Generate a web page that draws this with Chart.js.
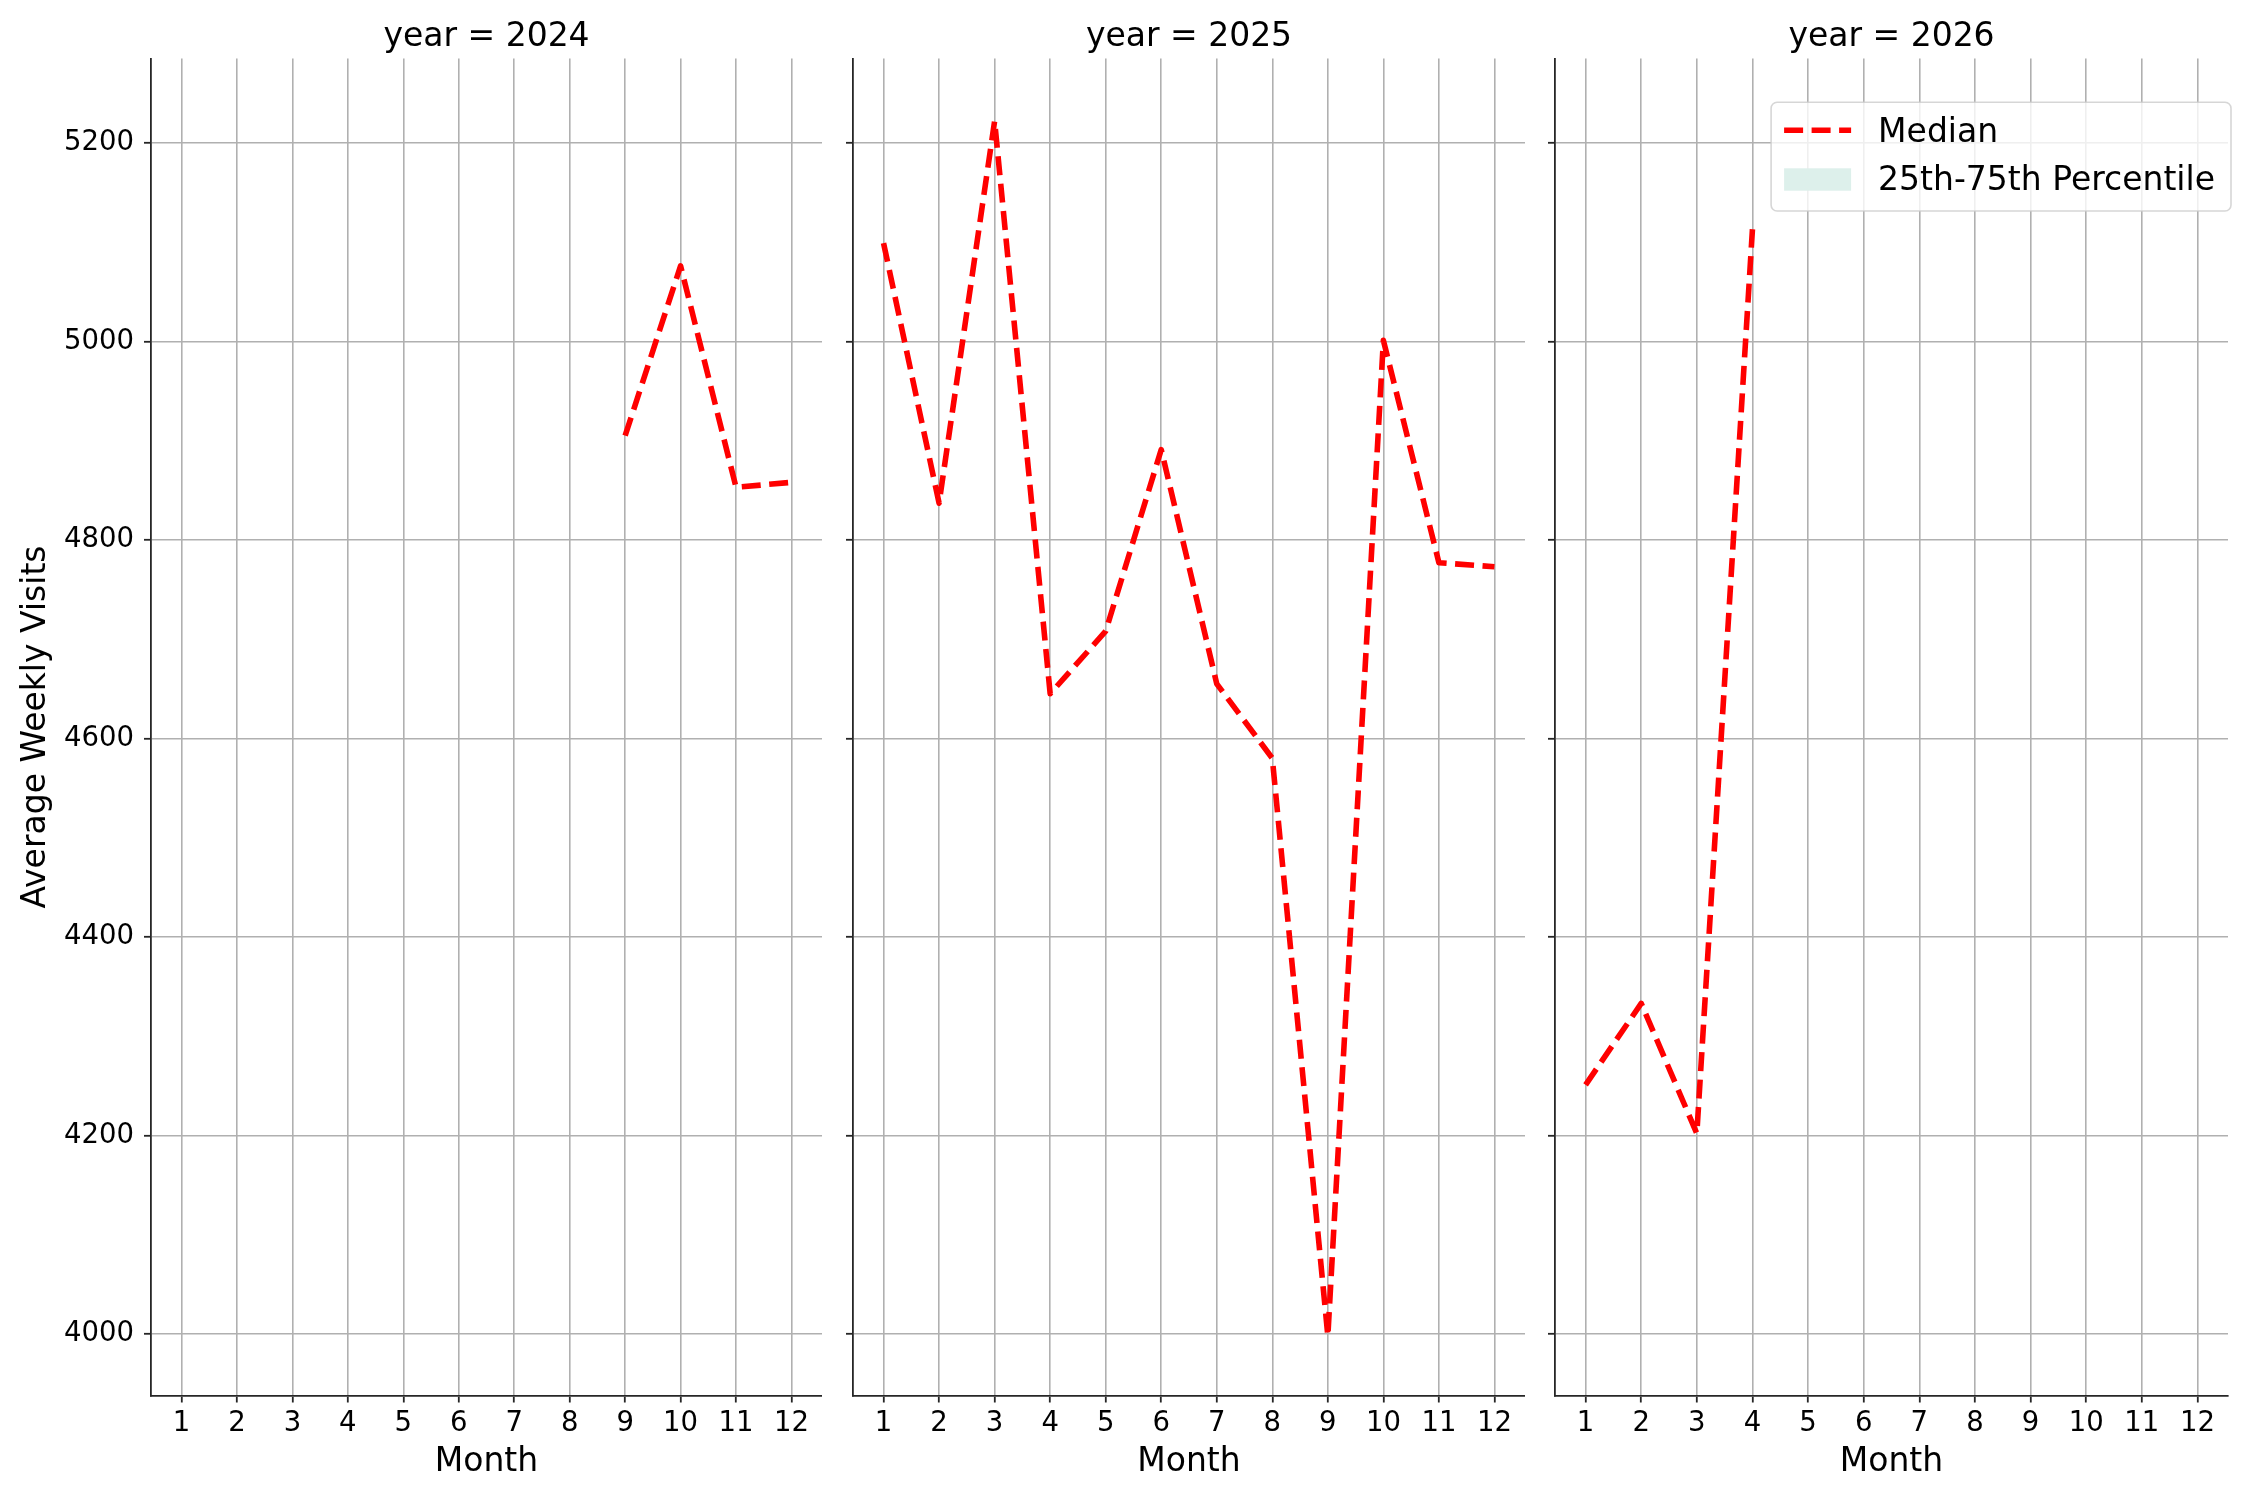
<!DOCTYPE html>
<html>
<head>
<meta charset="utf-8">
<script src="https://cdn.jsdelivr.net/npm/chart.js@4.4.1/dist/chart.umd.min.js"></script>
<style>
  html, body { margin: 0; padding: 0; background: #ffffff; width: 2250px; height: 1500px; overflow: hidden; }
  canvas { position: absolute; top: 0; }
</style>
</head>
<body>
<canvas id="c0"></canvas>
<canvas id="c1"></canvas>
<canvas id="c2"></canvas>
<script>
// ---------------- data ----------------
const months = [1, 2, 3, 4, 5, 6, 7, 8, 9, 10, 11, 12];
const years = ['2024', '2025', '2026'];
const median2024 = [null, null, null, null, null, null, null, null, 4905, 5076, 4853, 4858];
const median2025 = [5099, 4837, 5222, 4645, 4708, 4891, 4655, 4580, 3998, 5001, 4777, 4773];
const median2026 = [4251, 4333, 4202, 5113, null, null, null, null, null, null, null, null];
const yTicks = [4000, 4200, 4400, 4600, 4800, 5000, 5200];
const seriesLabels = ['Median', '25th-75th Percentile'];
const yTitle = 'Average Weekly Visits';
const xTitle = 'Month';

// ---------------- styling ----------------
const FONT = "'DejaVu Sans', 'Liberation Sans', sans-serif";
const INK = '#262626';
const GRID = '#b0b0b0';
const Y_MIN = 3938, Y_MAX = 5285;
const X_MIN = 0.45, X_MAX = 12.55;

const panels = [
  { canvas: 'c0', left: 0,    width: 822, yAxisWidth: 151, padRight: 0,  showYLabels: true,  values: median2024, legend: false },
  { canvas: 'c1', left: 841,  width: 684, yAxisWidth: 12,  padRight: 0,  showYLabels: false, values: median2025, legend: false },
  { canvas: 'c2', left: 1543, width: 707, yAxisWidth: 12,  padRight: 22, showYLabels: false, values: median2026, legend: true }
];

const legendPlugin = {
  id: 'boxLegend',
  afterDatasetsDraw(chart, args, opts) {
    if (!opts || !opts.show) return;
    const ctx = chart.ctx;
    const a = chart.chartArea;
    const ds = chart.data.datasets;
    ctx.save();
    ctx.font = '33px ' + FONT;
    let textW = 0;
    ds.forEach(d => { textW = Math.max(textW, ctx.measureText(d.label).width); });
    const padL = 13, handleW = 67, gap = 27, padR = 16;
    const w = padL + handleW + gap + textW + padR;
    const h = 108.7;
    const right = a.right + 3;
    const left = right - w;
    const top = a.top + 43.8;
    // frame
    ctx.beginPath();
    if (ctx.roundRect) ctx.roundRect(left, top, w, h, 6); else ctx.rect(left, top, w, h);
    ctx.fillStyle = 'rgba(255,255,255,0.8)';
    ctx.fill();
    ctx.lineWidth = 1.6;
    ctx.strokeStyle = 'rgba(204,204,204,0.8)';
    ctx.stroke();
    // entries
    const hx = left + padL;
    ds.forEach((d, i) => {
      const baseY = top + 39.7 + i * 48;
      if (!d.fill) {
        ctx.save();
        ctx.beginPath();
        ctx.setLineDash(d.borderDash || []);
        ctx.lineWidth = d.borderWidth;
        ctx.strokeStyle = d.borderColor;
        ctx.lineCap = 'butt';
        const cy = top + 28;
        ctx.moveTo(hx, cy);
        ctx.lineTo(hx + handleW, cy);
        ctx.stroke();
        ctx.restore();
      } else {
        ctx.fillStyle = d.backgroundColor;
        ctx.fillRect(hx, top + 66, handleW, 22.4);
      }
      ctx.fillStyle = '#000000';
      ctx.textBaseline = 'alphabetic';
      ctx.textAlign = 'left';
      ctx.fillText(d.label, hx + handleW + gap, baseY);
    });
    ctx.restore();
  }
};

function makeChart(p, year) {
  const cv = document.getElementById(p.canvas);
  cv.width = p.width;
  cv.height = 1500;
  cv.style.left = p.left + 'px';
  cv.style.width = p.width + 'px';
  cv.style.height = '1500px';

  const points = months.map((m, i) => ({ x: m, y: p.values[i] }));

  return new Chart(cv.getContext('2d'), {
    type: 'line',
    data: {
      datasets: [
        {
          label: seriesLabels[0],
          data: points,
          borderColor: '#ff0000',
          backgroundColor: '#ff0000',
          borderWidth: 5.6,
          borderDash: [19, 8.5],
          borderCapStyle: 'butt',
          borderJoinStyle: 'round',
          pointRadius: 0,
          pointHoverRadius: 0,
          tension: 0,
          fill: false,
          spanGaps: false
        },
        {
          label: seriesLabels[1],
          data: [],
          borderColor: 'rgba(0,0,0,0)',
          backgroundColor: '#ddf0eb',
          borderWidth: 0,
          pointRadius: 0,
          fill: 'origin'
        }
      ]
    },
    options: {
      responsive: false,
      animation: false,
      devicePixelRatio: 1,
      events: [],
      layout: { padding: { left: 0, right: p.padRight, top: 0, bottom: 0 } },
      plugins: {
        legend: { display: false },
        tooltip: { enabled: false },
        filler: { propagate: false },
        title: {
          display: true,
          text: 'year = ' + year,
          fullSize: false,
          color: '#000000',
          font: { family: FONT, size: 33, weight: 'normal', lineHeight: 1.2 },
          padding: { top: 17.7, bottom: 1.2 }
        },
        boxLegend: { show: p.legend }
      },
      scales: {
        x: {
          type: 'linear',
          position: 'bottom',
          min: X_MIN,
          max: X_MAX,
          offset: false,
          afterBuildTicks: (s) => { s.ticks = months.map(v => ({ value: v })); },
          afterFit: (s) => { s.height = 104.5; },
          ticks: {
            autoSkip: false,
            maxRotation: 0,
            minRotation: 0,
            padding: 4.7,
            color: '#000000',
            font: { family: FONT, size: 27.5, lineHeight: 1.2 },
            callback: (v) => String(v)
          },
          grid: {
            display: true,
            offset: false,
            color: GRID,
            lineWidth: 1.6,
            drawTicks: true,
            tickLength: 7,
            tickColor: INK,
            tickWidth: 1.8
          },
          border: { display: true, color: INK, width: 1.8 },
          title: {
            display: true,
            text: xTitle,
            color: '#000000',
            font: { family: FONT, size: 33, lineHeight: 1.2 },
            padding: { top: 0, bottom: 17.5 }
          }
        },
        y: {
          type: 'linear',
          position: 'left',
          min: Y_MIN,
          max: Y_MAX,
          afterBuildTicks: (s) => { s.ticks = yTicks.map(v => ({ value: v })); },
          afterFit: (s) => { s.width = p.yAxisWidth; },
          ticks: {
            display: p.showYLabels,
            padding: 10,
            color: '#000000',
            font: { family: FONT, size: 27.5, lineHeight: 1.2 },
            callback: (v) => String(v)
          },
          grid: {
            display: true,
            color: GRID,
            lineWidth: 1.6,
            drawTicks: true,
            tickLength: 7,
            tickColor: INK,
            tickWidth: 1.8
          },
          border: { display: true, color: INK, width: 1.8 },
          title: {
            display: p.showYLabels,
            text: yTitle,
            color: '#000000',
            font: { family: FONT, size: 33, lineHeight: 1.2 },
            padding: { top: 17, bottom: 0 }
          }
        }
      }
    },
    plugins: [legendPlugin]
  });
}

panels.forEach((p, i) => makeChart(p, years[i]));
</script>
</body>
</html>
